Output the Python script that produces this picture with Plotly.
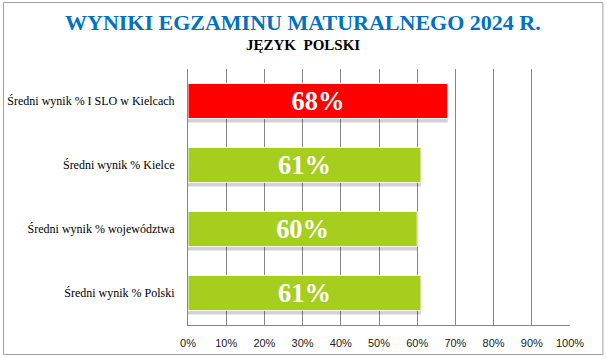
import plotly.graph_objects as go

categories = [
    "Średni wynik % I SLO w Kielcach",
    "Średni wynik % Kielce",
    "Średni wynik % województwa",
    "Średni wynik % Polski",
]
values = [68, 61, 60, 61]
bar_colors = ["#FF0000", "#A6CE1E", "#A6CE1E", "#A6CE1E"]
value_labels = ["68%", "61%", "60%", "61%"]
x_ticks = list(range(0, 101, 10))
x_tick_labels = [f"{t}%" for t in x_ticks]

title_text = "WYNIKI EGZAMINU MATURALNEGO 2024 R."
subtitle_text = "JĘZYK  POLSKI"

W, H = 607, 358
L, R, T, B = 187.5, 36.5, 69, 33
PW, PH = W - L - R, H - T - B

def px_x(px):
    return (px - L) / PW

def px_y(py):
    return (H - B - py) / PH

fig = go.Figure()

# soft shadow under the bars
fig.add_trace(go.Bar(
    y=categories, x=values, orientation="h",
    marker=dict(color="rgba(0,0,0,0.18)", line=dict(width=0)),
    width=0.55, offset=-0.275 + 0.06,
    hoverinfo="skip", showlegend=False,
))
fig.add_trace(go.Bar(
    y=categories, x=values, orientation="h",
    marker=dict(color=bar_colors, line=dict(color="white", width=1)),
    width=0.55, offset=-0.275,
    text=value_labels, textposition="inside", insidetextanchor="middle",
    textfont=dict(family="Liberation Serif", size=29, color="white", weight="bold"),
    textangle=0, showlegend=False,
))

fig.update_layout(
    width=W, height=H,
    margin=dict(l=L, r=R, t=T, b=B, pad=0, autoexpand=False),
    paper_bgcolor="white", plot_bgcolor="white",
    barmode="overlay",
    showlegend=False,
    xaxis=dict(
        range=[0, 100], tickvals=x_ticks, ticktext=x_tick_labels,
        showgrid=True, gridcolor="#868686", gridwidth=1,
        showline=True, linecolor="#868686", linewidth=1,
        zeroline=False, ticks="", automargin=False,
        tickfont=dict(family="Liberation Sans", size=11, color="#222222"),
        ticklabelstandoff=8,
        fixedrange=True,
    ),
    yaxis=dict(
        autorange="reversed", showgrid=False,
        showline=True, linecolor="#868686", linewidth=1,
        ticks="", ticklabelstandoff=10, automargin=False,
        tickfont=dict(family="Liberation Serif", size=12, color="black"),
        fixedrange=True,
    ),
    annotations=[
        dict(text=f"<b>{title_text}</b>", xref="paper", yref="paper",
             x=px_x(303), y=px_y(22), xanchor="center", yanchor="middle",
             showarrow=False,
             font=dict(family="Liberation Serif", size=22, color="#0070C0")),
        dict(text=f"<b>{subtitle_text}</b>", xref="paper", yref="paper",
             x=px_x(303), y=px_y(45), xanchor="center", yanchor="middle",
             showarrow=False,
             font=dict(family="Liberation Serif", size=15, color="black")),
    ],
    shapes=[
        dict(type="rect", xref="paper", yref="paper",
             x0=px_x(2.5), x1=px_x(603.5), y0=px_y(354.5), y1=px_y(2.5),
             line=dict(color="#A0A0A0", width=1), layer="below"),
    ],
)

fig.write_html(
    "out.html",
    config={"displayModeBar": False},
    post_script="document.body.style.margin='0';document.body.style.overflow='hidden';",
)
